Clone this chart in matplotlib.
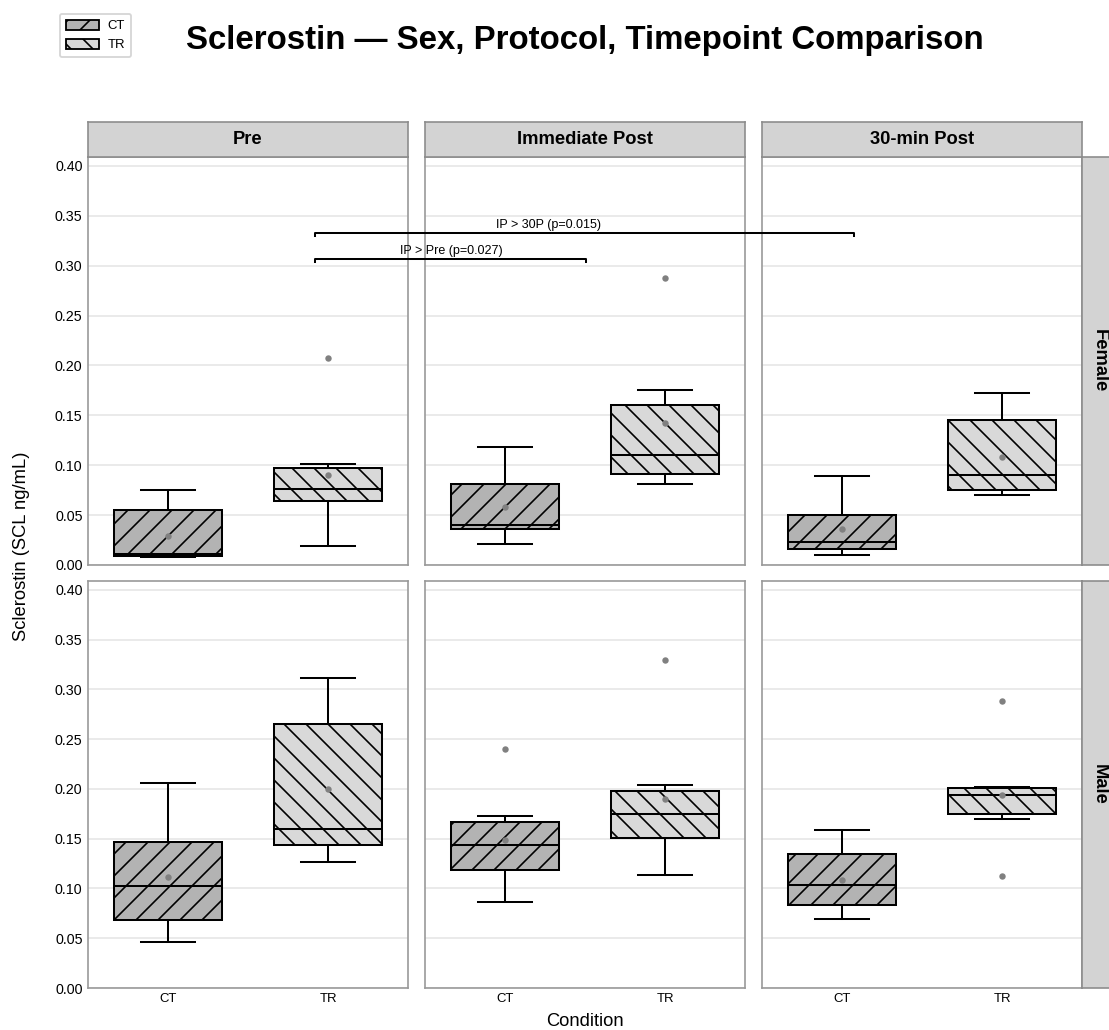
import matplotlib
matplotlib.use("Agg")
import matplotlib.pyplot as plt
from matplotlib.patches import Patch
from matplotlib.lines import Line2D

plt.rcParams["font.family"] = ["Liberation Sans", "DejaVu Sans"]
plt.rcParams["hatch.linewidth"] = 0.9

DPI = 132
W, H = 1109, 1030

# data (ng/mL)
TIMEPOINTS = ["Pre", "Immediate Post", "30-min Post"]
SEXES = ["Female", "Male"]
CONDITIONS = ["CT", "TR"]

# [sex][timepoint][condition]
q1 = [[[0.009, 0.064], [0.036, 0.091], [0.016, 0.075]],
      [[0.068, 0.144], [0.119, 0.151], [0.083, 0.175]]]
med = [[[0.011, 0.076], [0.040, 0.110], [0.023, 0.090]],
       [[0.102, 0.160], [0.144, 0.175], [0.104, 0.194]]]
q3 = [[[0.055, 0.097], [0.081, 0.160], [0.050, 0.145]],
      [[0.147, 0.265], [0.167, 0.198], [0.135, 0.201]]]
whis_lo = [[[0.008, 0.019], [0.021, 0.081], [0.010, 0.070]],
           [[0.046, 0.127], [0.086, 0.114], [0.069, 0.170]]]
whis_hi = [[[0.075, 0.101], [0.118, 0.175], [0.089, 0.172]],
           [[0.206, 0.312], [0.173, 0.204], [0.159, 0.202]]]
means = [[[0.029, 0.090], [0.058, 0.142], [0.036, 0.108]],
         [[0.112, 0.200], [0.149, 0.190], [0.109, 0.194]]]
outliers = [[[[], [0.208]], [[], [0.288]], [[], []]],
            [[[], []], [[0.240], [0.330]], [[], [0.288, 0.113]]]]

Y_TICKS = [0.00, 0.05, 0.10, 0.15, 0.20, 0.25, 0.30, 0.35, 0.40]

# significance brackets (drawn in Pre/Female data coords)
BRACKETS = [
    ("IP > Pre (p=0.027)", 0.92, 2.61, 0.307, 1.77),
    ("IP > 30P (p=0.015)", 0.92, 4.29, 0.333, 2.38),
]

FILL = {"CT": "#b3b3b3", "TR": "#d9d9d9"}
HATCH = {"CT": "//", "TR": "\\\\"}
SPINE = "#999999"
STRIP_FACE = "#d3d3d3"
STRIP_EDGE = "#8c8c8c"

fig = plt.figure(figsize=(W / DPI, H / DPI), dpi=DPI)

col_left = [88, 425, 762]
col_w = 320
row_bottom = [565, 988]
row_h = [408, 407]


def fx(px):
    return px / W


def fy(px):
    return 1 - px / H


axes = [[None] * 3 for _ in SEXES]
for r, sex in enumerate(SEXES):
    for c, tp in enumerate(TIMEPOINTS):
        ax = fig.add_axes([fx(col_left[c]), fy(row_bottom[r]), fx(col_w), row_h[r] / H])
        axes[r][c] = ax
        stats = []
        for k, cond in enumerate(CONDITIONS):
            stats.append(dict(
                q1=q1[r][c][k], med=med[r][c][k], q3=q3[r][c][k],
                whislo=whis_lo[r][c][k], whishi=whis_hi[r][c][k],
                mean=means[r][c][k], fliers=outliers[r][c][k],
            ))
        bp = ax.bxp(
            stats, positions=[0, 1], widths=0.68, patch_artist=True,
            showmeans=True, manage_ticks=False,
            boxprops=dict(linewidth=1.1, edgecolor="black"),
            medianprops=dict(color="black", linewidth=1.1),
            whiskerprops=dict(color="black", linewidth=1.1),
            capprops=dict(color="black", linewidth=1.1),
            capwidths=0.34,
            meanprops=dict(marker="o", markerfacecolor="#808080",
                           markeredgecolor="none", markersize=3.5),
            flierprops=dict(marker="o", markerfacecolor="#808080",
                            markeredgecolor="none", markersize=3.5),
        )
        for patch, cond in zip(bp["boxes"], CONDITIONS):
            patch.set_facecolor(FILL[cond])
            patch.set_hatch(HATCH[cond])

        ax.set_xlim(-0.5, 1.5)
        ax.set_ylim(0, 0.409)
        ax.set_yticks(Y_TICKS)
        ax.set_xticks([0, 1])
        ax.grid(axis="y", color="#e6e6e6", linewidth=0.9)
        ax.set_axisbelow(True)
        ax.tick_params(length=0, pad=3)
        ax.tick_params(axis="y", labelsize=7.8)
        ax.tick_params(axis="x", labelsize=7.2)
        for s in ax.spines.values():
            s.set_color(SPINE)
            s.set_linewidth(0.9)
        if c == 0:
            ax.set_yticklabels([f"{v:.2f}" for v in Y_TICKS])
        else:
            ax.set_yticklabels([])
        if r == len(SEXES) - 1:
            ax.set_xticklabels(CONDITIONS)
        else:
            ax.set_xticklabels([])

# facet strips
for c, tp in enumerate(TIMEPOINTS):
    sax = fig.add_axes([fx(col_left[c]), fy(157), fx(col_w), 35 / H])
    sax.set_facecolor(STRIP_FACE)
    sax.set_xticks([])
    sax.set_yticks([])
    for s in sax.spines.values():
        s.set_color(STRIP_EDGE)
        s.set_linewidth(0.9)
    sax.text(0.5, 0.5, tp, ha="center", va="center", fontsize=10, fontweight="bold",
             transform=sax.transAxes)

for r, sex in enumerate(SEXES):
    sax = fig.add_axes([fx(1082), fy(row_bottom[r]), fx(35), row_h[r] / H])
    sax.set_facecolor(STRIP_FACE)
    sax.set_xticks([])
    sax.set_yticks([])
    for s in sax.spines.values():
        s.set_color(STRIP_EDGE)
        s.set_linewidth(0.9)
    sax.text(0.5, 0.5, sex, ha="center", va="center", fontsize=10, fontweight="bold",
             rotation=-90, transform=sax.transAxes)

# brackets across panels
ref = axes[0][0]
tick = 0.003
for label, x0, x1, y, xt in BRACKETS:
    fig.add_artist(Line2D([x0, x0, x1, x1], [y - tick, y, y, y - tick],
                          color="black", linewidth=1.1, transform=ref.transData))
    fig.text(xt, y + 0.002, label, ha="center", va="bottom", fontsize=6.8,
             transform=ref.transData)

# titles and labels
fig.text(fx(585), fy(40), "Sclerostin — Sex, Protocol, Timepoint Comparison",
         ha="center", va="center", fontsize=18, fontweight="bold")
fig.text(fx(22), fy(546), "Sclerostin (SCL ng/mL)", rotation=90,
         ha="center", va="center", fontsize=10)
fig.text(fx(585), fy(1021), "Condition", ha="center", va="center", fontsize=10)

handles = [Patch(facecolor=FILL[c], edgecolor="black", hatch=HATCH[c], label=c)
           for c in CONDITIONS]
fig.legend(handles=handles, loc="upper left", bbox_to_anchor=(fx(53), fy(7)),
           fontsize=7.2, frameon=True, handlelength=2.5, handleheight=0.8,
           borderpad=0.45, labelspacing=0.5, handletextpad=0.7,
           edgecolor="#cccccc", fancybox=True)

fig.savefig("out.png", dpi=DPI)
